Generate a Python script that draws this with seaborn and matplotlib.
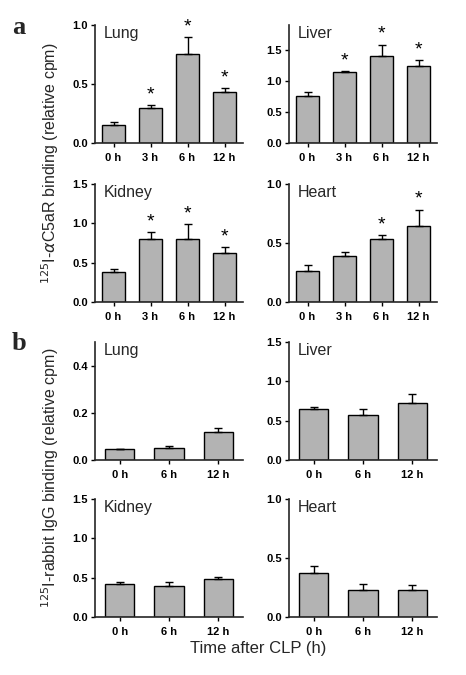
import numpy as np
import pandas as pd
import matplotlib
matplotlib.use("Agg")
import matplotlib.pyplot as plt
import seaborn as sns

# --- Data ---
hours_a = ["0 h", "3 h", "6 h", "12 h"]
hours_b = ["0 h", "6 h", "12 h"]

# panel a: 125I-anti-C5aR binding (mean, upper error end)
a_lung_mean = [0.152, 0.30, 0.758, 0.428]
a_lung_err = [0.028, 0.018, 0.142, 0.037]
a_lung_sig = [False, True, True, True]

a_liver_mean = [0.753, 1.143, 1.40, 1.24]
a_liver_err = [0.067, 0.017, 0.186, 0.095]
a_liver_sig = [False, True, True, True]

a_kidney_mean = [0.38, 0.80, 0.805, 0.62]
a_kidney_err = [0.04, 0.09, 0.185, 0.08]
a_kidney_sig = [False, True, True, True]

a_heart_mean = [0.262, 0.393, 0.538, 0.644]
a_heart_err = [0.048, 0.034, 0.026, 0.139]
a_heart_sig = [False, False, True, True]

# panel b: 125I-rabbit IgG binding
b_lung_mean = [0.045, 0.050, 0.117]
b_lung_err = [0.002, 0.010, 0.017]

b_liver_mean = [0.648, 0.576, 0.72]
b_liver_err = [0.030, 0.077, 0.119]

b_kidney_mean = [0.42, 0.394, 0.479]
b_kidney_err = [0.025, 0.055, 0.025]

b_heart_mean = [0.369, 0.229, 0.229]
b_heart_err = [0.062, 0.054, 0.042]

sns.set_style("ticks")
plt.rcParams["font.family"] = ["Liberation Sans", "DejaVu Sans"]
plt.rcParams["axes.linewidth"] = 1.2

fig = plt.figure(figsize=(4.66, 6.75), dpi=100)

col_left = [95 / 466, 289 / 466]
ax_w = 148 / 466
ax_h = 118 / 675
row_bottom = [1 - 143 / 675, 1 - 302 / 675, 1 - 460 / 675, 1 - 617 / 675]

BAR = "#b3b3b3"


def draw_panel(ax, labels, mean, err, sig, name, ymax, yticks):
    df = pd.DataFrame({"time": labels, "value": mean})
    sns.barplot(data=df, x="time", y="value", order=labels, color=BAR,
                edgecolor="black", linewidth=1.0, width=0.6, saturation=1,
                errorbar=None, ax=ax)
    x = np.arange(len(labels))
    ax.errorbar(x, mean, yerr=[np.zeros(len(mean)), err], fmt="none",
                ecolor="black", elinewidth=1.0, capsize=3, capthick=1.0)
    if sig is not None:
        for i, s in enumerate(sig):
            if s:
                ax.text(i, mean[i] + err[i] + 0.015 * ymax, "*", ha="center",
                        va="bottom", fontsize=14, color="black")
    ax.set_xlim(-0.5, len(labels) - 0.5)
    ax.set_ylim(0, ymax)
    ax.set_yticks(yticks)
    ax.set_yticklabels([f"{t:.1f}" for t in yticks], fontweight="bold", fontsize=8)
    ax.set_xticks(x)
    ax.set_xticklabels(labels, fontweight="bold", fontsize=8)
    ax.set_xlabel("")
    ax.set_ylabel("")
    ax.tick_params(axis="both", length=3, width=1.0, pad=2, colors="black")
    ax.tick_params(axis="x", pad=4)
    for sp in ["top", "right"]:
        ax.spines[sp].set_visible(False)
    ax.text(0.06, 0.99, name, transform=ax.transAxes, ha="left", va="top",
            fontsize=11.5)


panels = [
    (0, 0, hours_a, a_lung_mean, a_lung_err, a_lung_sig, "Lung", 1.0, [0, 0.5, 1.0]),
    (0, 1, hours_a, a_liver_mean, a_liver_err, a_liver_sig, "Liver", 1.9, [0, 0.5, 1.0, 1.5]),
    (1, 0, hours_a, a_kidney_mean, a_kidney_err, a_kidney_sig, "Kidney", 1.5, [0, 0.5, 1.0, 1.5]),
    (1, 1, hours_a, a_heart_mean, a_heart_err, a_heart_sig, "Heart", 1.0, [0, 0.5, 1.0]),
    (2, 0, hours_b, b_lung_mean, b_lung_err, None, "Lung", 0.5, [0, 0.2, 0.4]),
    (2, 1, hours_b, b_liver_mean, b_liver_err, None, "Liver", 1.5, [0, 0.5, 1.0, 1.5]),
    (3, 0, hours_b, b_kidney_mean, b_kidney_err, None, "Kidney", 1.5, [0, 0.5, 1.0, 1.5]),
    (3, 1, hours_b, b_heart_mean, b_heart_err, None, "Heart", 1.0, [0, 0.5, 1.0]),
]

for r, c, labels, m, e, s, name, ymax, yt in panels:
    ax = fig.add_axes([col_left[c], row_bottom[r], ax_w, ax_h])
    draw_panel(ax, labels, m, e, s, name, ymax, yt)

# shared labels
fig.text(0.107, 1 - 163 / 675, r"$^{125}$I-$\alpha$C5aR binding (relative cpm)",
         rotation=90, ha="center", va="center", fontsize=11.5)
fig.text(0.107, 1 - 478 / 675, r"$^{125}$I-rabbit IgG binding (relative cpm)",
         rotation=90, ha="center", va="center", fontsize=11.5)
fig.text(258 / 466, 1 - 648 / 675, "Time after CLP (h)", ha="center",
         va="center", fontsize=12)

fig.text(12 / 466, 1 - 27 / 675, "a", fontsize=19, fontweight="bold",
         family="Liberation Serif", ha="left", va="center")
fig.text(12 / 466, 1 - 343 / 675, "b", fontsize=19, fontweight="bold",
         family="Liberation Serif", ha="left", va="center")

fig.savefig("out.png", dpi=100)
